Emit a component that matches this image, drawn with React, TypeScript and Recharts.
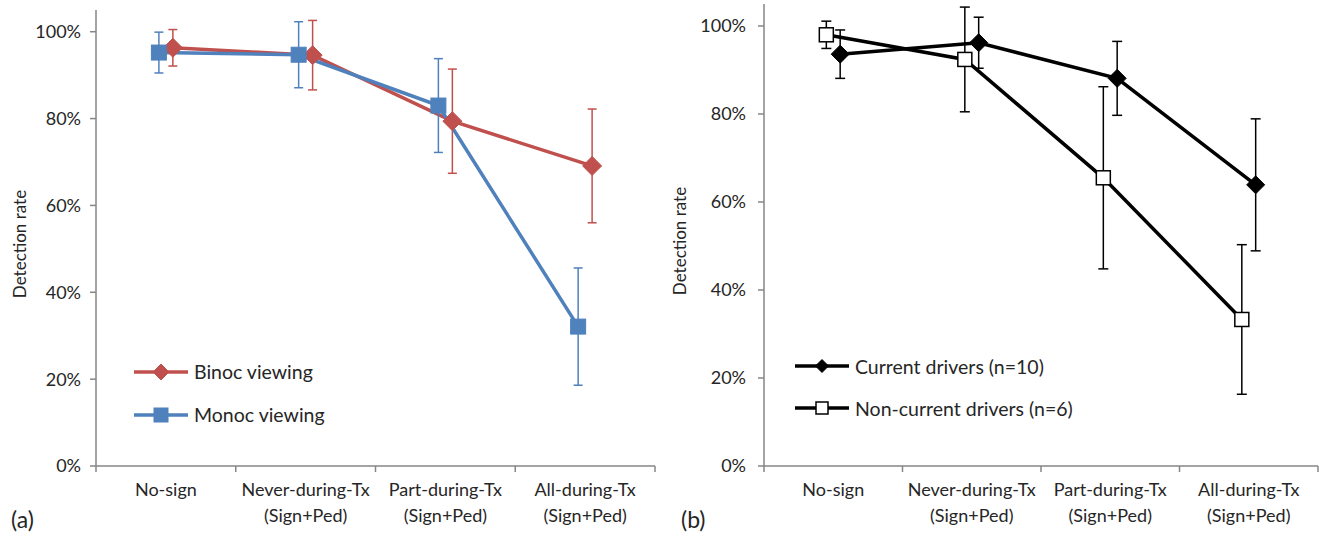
import { ErrorBar, Legend, Line, LineChart, XAxis, YAxis } from 'recharts';

const categories = ['No-sign', 'Never-during-Tx', 'Part-during-Tx', 'All-during-Tx'];
const subLabels = ['', '(Sign+Ped)', '(Sign+Ped)', '(Sign+Ped)'];
const yTicks = [0, 0.2, 0.4, 0.6, 0.8, 1];
const xBounds = [0, 1, 2, 3, 4];

// panel (a)
const binocValues = [0.963, 0.946, 0.794, 0.691];
const binocErrors = [0.042, 0.08, 0.12, 0.131];
const monocValues = [0.952, 0.947, 0.83, 0.321];
const monocErrors = [0.047, 0.076, 0.108, 0.135];

// panel (b)
const currentValues = [0.936, 0.962, 0.881, 0.639];
const currentErrors = [0.055, 0.058, 0.084, 0.15];
const nonCurrentValues = [0.98, 0.924, 0.655, 0.333];
const nonCurrentErrors = [0.031, 0.119, 0.207, 0.17];

const RED = '#C0504D';
const BLUE = '#4F81BD';
const BLACK = '#000000';
const AXIS = '#868686';
const TEXT = '#262626';
const FONT = 'Lato, "Open Sans", sans-serif';

const SHIFT = 0.05; // series sit a little either side of the category centre

const toPoints = (values: number[], errors: number[], shift: number) =>
  values.map((v, i) => ({ x: i + 0.5 + shift, value: v, err: errors[i] }));

type Shape = 'diamond' | 'square' | 'open-square';

const Marker = ({ cx, cy, shape, size, color }: { cx: number; cy: number; shape: Shape; size: number; color: string }) => {
  if (shape === 'diamond') {
    return (
      <path
        d={`M${cx},${cy - size} L${cx + size},${cy} L${cx},${cy + size} L${cx - size},${cy} Z`}
        fill={color}
        stroke={color}
        strokeWidth={1}
      />
    );
  }
  if (shape === 'square') {
    return <rect x={cx - size} y={cy - size} width={size * 2} height={size * 2} fill={color} stroke={color} strokeWidth={1} />;
  }
  return <rect x={cx - size} y={cy - size} width={size * 2} height={size * 2} fill="#fff" stroke={color} strokeWidth={1.5} />;
};

const dotOf = (shape: Shape, size: number, color: string) => (p: any) => (
  <Marker key={`dot-${p.index}`} cx={p.cx} cy={p.cy} shape={shape} size={size} color={color} />
);

const CategoryTick = ({ x, y, payload, halfBand }: any) => {
  const i = payload.value as number;
  if (i >= categories.length) return <g />;
  return (
    <g transform={`translate(${x + halfBand},${y})`}>
      <text textAnchor="middle" fill={TEXT} fontSize={18} fontFamily={FONT}>
        <tspan x={0} dy={22}>
          {categories[i]}
        </tspan>
        {subLabels[i] && (
          <tspan x={0} dy={26}>
            {subLabels[i]}
          </tspan>
        )}
      </text>
    </g>
  );
};

const legendOf =
  (shapes: Record<string, { shape: Shape; size: number }>, rowHeight: number, lineW: number) =>
  ({ payload }: any) => (
    <div style={{ fontFamily: FONT }}>
      {(payload || []).map((entry: any) => {
        const s = shapes[entry.value];
        return (
          <div key={entry.value} style={{ display: 'flex', alignItems: 'center', height: rowHeight }}>
            <svg width={lineW} height={22}>
              <line x1={0} x2={lineW} y1={11} y2={11} stroke={entry.color} strokeWidth={3.5} />
              <Marker cx={lineW / 2} cy={11} shape={s.shape} size={s.size} color={entry.color} />
            </svg>
            <span style={{ marginLeft: 6, fontSize: 19.5, color: TEXT, whiteSpace: 'nowrap' }}>{entry.value}</span>
          </div>
        );
      })}
    </div>
  );

const pct = (v: number) => `${Math.round(v * 100)}%`;

interface PanelProps {
  width: number;
  top: number;
  yAxisWidth: number;
  right: number;
  tickMargin: number;
  children: any;
  legend: any;
  legendPos: { left: number; top: number };
}

const Panel = ({ width, top, yAxisWidth, right, tickMargin, children, legend, legendPos }: PanelProps) => {
  const halfBand = (width - yAxisWidth - right) / 8;
  return (
    <LineChart width={width} height={546} margin={{ top, right, bottom: 0, left: 0 }} style={{ fontFamily: FONT }}>
      <XAxis
        type="number"
        dataKey="x"
        domain={[0, 4]}
        ticks={xBounds}
        interval={0}
        height={546 - 466}
        axisLine={{ stroke: AXIS, strokeWidth: 1.5 }}
        tickLine={{ stroke: AXIS, strokeWidth: 1.5 }}
        tickSize={6}
        tick={<CategoryTick halfBand={halfBand} />}
      />
      <YAxis
        type="number"
        domain={[0, 1.05]}
        allowDataOverflow
        ticks={yTicks}
        interval={0}
        width={yAxisWidth}
        tickFormatter={pct}
        axisLine={{ stroke: AXIS, strokeWidth: 1.5 }}
        tickLine={{ stroke: AXIS, strokeWidth: 1.5 }}
        tickSize={6}
        tickMargin={tickMargin}
        tick={{ fill: TEXT, fontSize: 18, fontFamily: FONT }}
        label={{
          value: 'Detection rate',
          angle: -90,
          position: 'center',
          dx: 20 - yAxisWidth / 2,
          dy: 6,
          style: { fill: TEXT, fontSize: 17, fontFamily: FONT, textAnchor: 'middle' },
        }}
      />
      {children}
      <Legend
        layout="vertical"
        align="center"
        verticalAlign="middle"
        content={legend}
        wrapperStyle={{ left: legendPos.left, top: legendPos.top, width: 'auto' }}
      />
    </LineChart>
  );
};

export default function App() {
  const binoc = toPoints(binocValues, binocErrors, SHIFT);
  const monoc = toPoints(monocValues, monocErrors, -SHIFT);
  const current = toPoints(currentValues, currentErrors, SHIFT);
  const nonCurrent = toPoints(nonCurrentValues, nonCurrentErrors, -SHIFT);

  return (
    <div style={{ position: 'absolute', left: 0, top: 0, width: 1319, height: 546, background: '#fff', fontFamily: FONT }}>
      <div style={{ position: 'absolute', left: 0, top: 0 }}>
        <Panel
          width={660}
          top={10}
          yAxisWidth={96}
          right={5}
          tickMargin={9}
          legend={legendOf(
            { 'Binoc viewing': { shape: 'diamond', size: 8 }, 'Monoc viewing': { shape: 'square', size: 7 } },
            43,
            54
          )}
          legendPos={{ left: 134, top: 350 }}
        >
          <Line
            data={binoc}
            dataKey="value"
            name="Binoc viewing"
            stroke={RED}
            strokeWidth={3.5}
            dot={dotOf('diamond', 9.5, RED)}
            activeDot={false}
            isAnimationActive={false}
          >
            <ErrorBar dataKey="err" direction="y" width={4.5} stroke={RED} strokeWidth={1.5} />
          </Line>
          <Line
            data={monoc}
            dataKey="value"
            name="Monoc viewing"
            stroke={BLUE}
            strokeWidth={3.5}
            dot={dotOf('square', 7.5, BLUE)}
            activeDot={false}
            isAnimationActive={false}
          >
            <ErrorBar dataKey="err" direction="y" width={4.5} stroke={BLUE} strokeWidth={1.5} />
          </Line>
        </Panel>
      </div>
      <div style={{ position: 'absolute', left: 660, top: 0 }}>
        <Panel
          width={659}
          top={4}
          yAxisWidth={104}
          right={1}
          tickMargin={12}
          legend={legendOf(
            { 'Current drivers (n=10)': { shape: 'diamond', size: 6.5 }, 'Non-current drivers (n=6)': { shape: 'open-square', size: 6 } },
            42,
            54
          )}
          legendPos={{ left: 135, top: 345 }}
        >
          <Line
            data={current}
            dataKey="value"
            name="Current drivers (n=10)"
            stroke={BLACK}
            strokeWidth={3.5}
            dot={dotOf('diamond', 9, BLACK)}
            activeDot={false}
            isAnimationActive={false}
          >
            <ErrorBar dataKey="err" direction="y" width={5} stroke={BLACK} strokeWidth={1.5} />
          </Line>
          <Line
            data={nonCurrent}
            dataKey="value"
            name="Non-current drivers (n=6)"
            stroke={BLACK}
            strokeWidth={3.5}
            dot={dotOf('open-square', 7, BLACK)}
            activeDot={false}
            isAnimationActive={false}
          >
            <ErrorBar dataKey="err" direction="y" width={5} stroke={BLACK} strokeWidth={1.5} />
          </Line>
        </Panel>
      </div>
      <div style={{ position: 'absolute', left: 11, top: 505, fontSize: 23, color: TEXT }}>(a)</div>
      <div style={{ position: 'absolute', left: 681, top: 505, fontSize: 23, color: TEXT }}>(b)</div>
    </div>
  );
}
